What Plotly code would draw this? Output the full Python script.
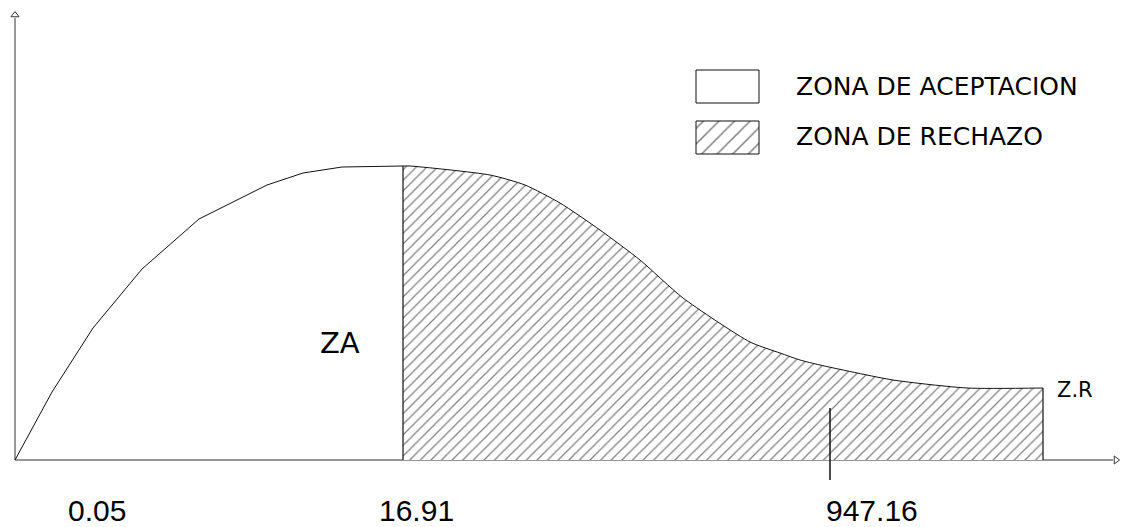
import plotly.graph_objects as go

# Curve values (x: horizontal units from origin, y: height)
accept_x = [0, 37, 78, 127, 184, 252, 288, 327, 388]
accept_y = [0, 68, 132, 191, 241, 275, 287, 293, 294]

reject_x = [388, 395, 475, 510, 545, 585, 625, 668, 735, 765, 785, 805, 878, 952, 1028]
reject_y = [294, 294, 285, 275, 257, 230, 200, 162, 118, 107, 100, 95, 80, 72, 72]

tick_labels = ["0.05", "16.91", "947.16"]
tick_label_x = [82, 401, 857]
marker_tick_x = 815

legend_names = ["ZONA DE ACEPTACION", "ZONA DE RECHAZO"]

INK = "#111111"
GEO_FONT = "DejaVu Sans"

fig = go.Figure()

# axes drawn as lines
fig.add_trace(go.Scatter(x=[0, 0, None, 0, 1098], y=[442, 0, None, 0, 0], mode="lines",
                         line=dict(color="#333333", width=1), hoverinfo="skip", showlegend=False))
fig.add_trace(go.Scatter(x=[0], y=[445], mode="markers",
                         marker=dict(symbol="triangle-up-open", size=7, color="#333333", line=dict(width=1)),
                         hoverinfo="skip", showlegend=False))
fig.add_trace(go.Scatter(x=[1101], y=[0], mode="markers",
                         marker=dict(symbol="triangle-right-open", size=7, color="#333333", line=dict(width=1)),
                         hoverinfo="skip", showlegend=False))

# rejection zone (hatched)
fig.add_trace(go.Scatter(x=reject_x, y=reject_y, mode="lines", line=dict(color=INK, width=1, shape="spline", smoothing=0.6),
                         fill="tozeroy", fillcolor="white",
                         fillpattern=dict(shape="/", size=7.5, solidity=0.16, fgcolor="black", bgcolor="white"),
                         hoverinfo="skip", showlegend=False))
# acceptance zone
fig.add_trace(go.Scatter(x=accept_x, y=accept_y, mode="lines", line=dict(color=INK, width=1),
                         hoverinfo="skip", showlegend=False))
# vertical boundaries
fig.add_trace(go.Scatter(x=[reject_x[0], reject_x[0], None, reject_x[-1], reject_x[-1]],
                         y=[0, reject_y[0], None, 0, reject_y[-1]], mode="lines",
                         line=dict(color=INK, width=1.2), hoverinfo="skip", showlegend=False))
# marker tick
fig.add_trace(go.Scatter(x=[marker_tick_x, marker_tick_x], y=[52, -20], mode="lines",
                         line=dict(color=INK, width=1.5), hoverinfo="skip", showlegend=False))

# legend boxes
fig.add_trace(go.Scatter(x=[681, 744, 744, 681, 681], y=[390, 390, 357, 357, 390], mode="lines",
                         line=dict(color=INK, width=1), hoverinfo="skip", showlegend=False))
fig.add_trace(go.Scatter(x=[681, 744, 744, 681, 681], y=[339, 339, 306, 306, 339], mode="lines",
                         fill="toself", fillcolor="white",
                         fillpattern=dict(shape="/", size=11, solidity=0.14, fgcolor="black", bgcolor="white"),
                         line=dict(color=INK, width=1), hoverinfo="skip", showlegend=False))

annotations = []
for lab, x in zip(tick_labels, tick_label_x):
    annotations.append(dict(x=x, y=-50, text=lab, showarrow=False, xanchor="center", yanchor="middle",
                            font=dict(family="Liberation Sans", size=30, color="black")))
annotations.append(dict(x=325, y=117, text="ZA", showarrow=False, xanchor="center", yanchor="middle",
                        font=dict(family=GEO_FONT, size=29, color="black")))
annotations.append(dict(x=1040, y=70, text="Z.R", showarrow=False, xanchor="left", yanchor="middle",
                        font=dict(family=GEO_FONT, size=21, color="black")))
for name, y in zip(legend_names, [374, 324]):
    annotations.append(dict(x=779, y=y, text=name, showarrow=False, xanchor="left", yanchor="middle",
                            font=dict(family=GEO_FONT, size=25, color="black")))

fig.update_layout(
    width=1128, height=527,
    margin=dict(l=0, r=0, t=0, b=0),
    paper_bgcolor="white", plot_bgcolor="white",
    xaxis=dict(range=[-15, 1113], visible=False, fixedrange=True),
    yaxis=dict(range=[-67, 460], visible=False, fixedrange=True),
    annotations=annotations,
    showlegend=False,
)

fig.write_html("out.html", config={"displayModeBar": False},
               post_script="document.body.style.margin='0';document.body.style.overflow='hidden';")
